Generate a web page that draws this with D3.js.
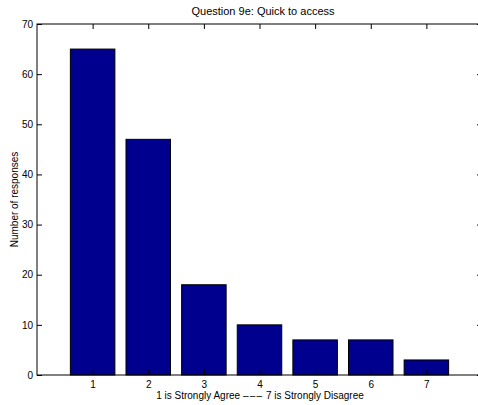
<!DOCTYPE html>
<html>
<head>
<meta charset="utf-8">
<script src="https://cdn.jsdelivr.net/npm/d3@7"></script>
<style>
  body { margin: 0; background: #fff; }
  svg { display: block; font-family: "Liberation Sans", Arial, sans-serif; }
</style>
</head>
<body>
<div id="chart"></div>
<script>
// data
let categories = [1, 2, 3, 4, 5, 6, 7];
let responses = [65, 47, 18, 10, 7, 7, 3];
let yTicks = [0, 10, 20, 30, 40, 50, 60, 70];

let width = 478, height = 405;
// axes box (right edge sits just past the window, as in the reference)
let margin = {left: 37, top: 24, right: 482, bottom: 375};

let svg = d3.select("#chart")
    .append("svg")
    .attr("width", width)
    .attr("height", height);

// x linear scale, matlab style limits 0..8
let x = d3.scaleLinear()
    .domain([0, 8])
    .range([margin.left, margin.right]);

// y linear scale
let y = d3.scaleLinear()
    .domain([0, 70])
    .range([margin.bottom, margin.top]);

let barWidth = x(0.8) - x(0);

// bars
svg.append("g")
    .selectAll("rect")
    .data(categories)
    .enter()
    .append("rect")
    .attr("x", (d, i) => x(d) - barWidth / 2)
    .attr("y", (d, i) => y(responses[i]))
    .attr("width", barWidth)
    .attr("height", (d, i) => y(0) - y(responses[i]))
    .attr("fill", "#00008f")
    .attr("stroke", "#000")
    .attr("stroke-width", 1);

// axes, ticks pointing inward
let tickLen = 5;
svg.append("g")
    .attr("transform", `translate(0, ${margin.bottom})`)
    .call(d3.axisTop(x).tickValues(categories).tickSize(tickLen).tickFormat(""));
svg.append("g")
    .attr("transform", `translate(0, ${margin.bottom})`)
    .call(d3.axisBottom(x).tickValues(categories).tickSize(0).tickPadding(6));
svg.append("g")
    .attr("transform", `translate(0, ${margin.top})`)
    .call(d3.axisBottom(x).tickValues(categories).tickSize(tickLen).tickFormat(""));
svg.append("g")
    .attr("transform", `translate(${margin.left}, 0)`)
    .call(d3.axisRight(y).tickValues(yTicks).tickSize(tickLen).tickFormat(""));
svg.append("g")
    .attr("transform", `translate(${margin.left}, 0)`)
    .call(d3.axisLeft(y).tickValues(yTicks).tickSize(0).tickPadding(4));
svg.append("g")
    .attr("transform", `translate(${margin.right}, 0)`)
    .call(d3.axisLeft(y).tickValues(yTicks).tickSize(tickLen).tickFormat(""));

svg.selectAll(".domain").remove();
svg.selectAll(".tick line").attr("stroke", "#000");
svg.selectAll(".tick text")
    .style("font-family", "Liberation Sans, Arial, sans-serif")
    .style("font-size", "10px")
    .attr("fill", "#000");

// box
svg.append("rect")
    .attr("x", margin.left)
    .attr("y", margin.top)
    .attr("width", margin.right - margin.left)
    .attr("height", margin.bottom - margin.top)
    .attr("fill", "none")
    .attr("stroke", "#000")
    .attr("stroke-width", 1);

// title
svg.append("text")
    .attr("x", 263)
    .attr("y", 15)
    .style("text-anchor", "middle")
    .style("font-size", "11px")
    .text("Question 9e: Quick to access");

// x-axis label, dashes spaced out a bit like the original
let xLabel = svg.append("text")
    .attr("x", 260)
    .attr("y", 399)
    .style("text-anchor", "middle")
    .style("font-size", "10px");
xLabel.append("tspan").text("1 is Strongly Agree ");
xLabel.append("tspan").style("letter-spacing", "1.2px").text("–––");
xLabel.append("tspan").text(" 7 is Strongly Disagree");

// y-axis label
svg.append("text")
    .attr("transform", `translate(18, ${(margin.top + margin.bottom) / 2}) rotate(-90)`)
    .style("text-anchor", "middle")
    .style("font-size", "10px")
    .text("Number of responses");
</script>
</body>
</html>
